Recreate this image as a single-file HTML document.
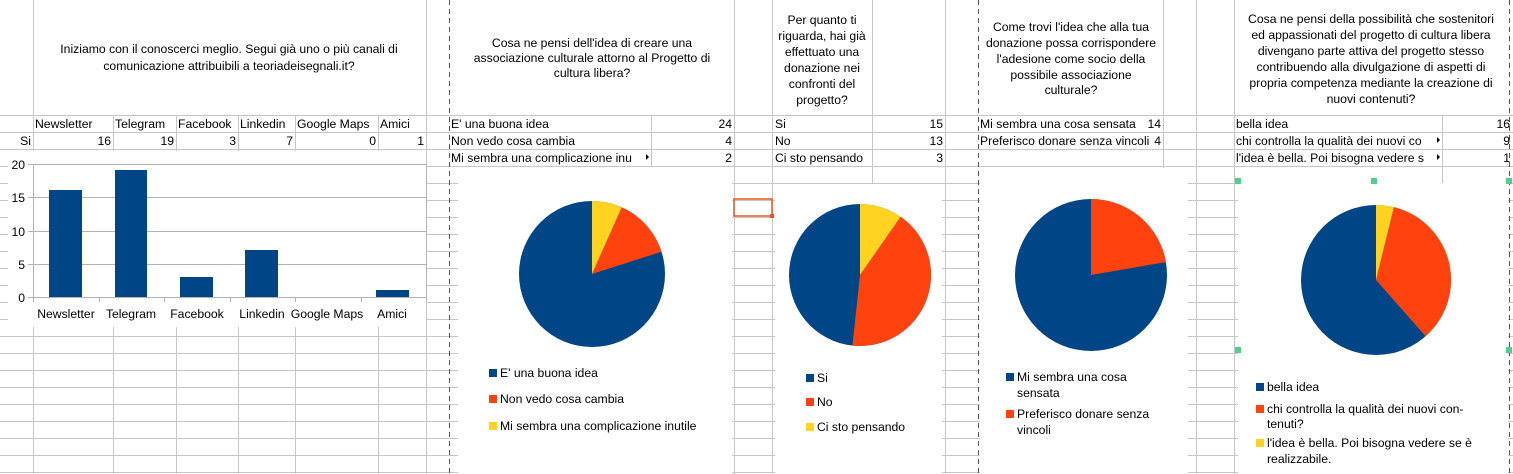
<!DOCTYPE html>
<html><head><meta charset="utf-8"><style>
html,body{margin:0;padding:0;background:#fff;}
svg{display:block;font-family:"Liberation Sans",sans-serif;font-size:12.2px;}
</style></head><body>
<svg width="1513" height="474" viewBox="0 0 1513 474" xmlns="http://www.w3.org/2000/svg">
<g stroke="#c6c6c6" stroke-width="1" shape-rendering="crispEdges">
<line x1="0" y1="115.5" x2="1513" y2="115.5"/><line x1="0" y1="132.5" x2="1513" y2="132.5"/>
<line x1="0" y1="149.5" x2="1513" y2="149.5"/><line x1="0" y1="166.5" x2="1513" y2="166.5"/>
<line x1="0" y1="183.5" x2="1513" y2="183.5"/><line x1="0" y1="200.5" x2="1513" y2="200.5"/>
<line x1="0" y1="217.5" x2="1513" y2="217.5"/><line x1="0" y1="234.5" x2="1513" y2="234.5"/>
<line x1="0" y1="251.5" x2="1513" y2="251.5"/><line x1="0" y1="268.5" x2="1513" y2="268.5"/>
<line x1="0" y1="285.5" x2="1513" y2="285.5"/><line x1="0" y1="302.5" x2="1513" y2="302.5"/>
<line x1="0" y1="319.5" x2="1513" y2="319.5"/><line x1="0" y1="336.5" x2="1513" y2="336.5"/>
<line x1="0" y1="353.5" x2="1513" y2="353.5"/><line x1="0" y1="370.5" x2="1513" y2="370.5"/>
<line x1="0" y1="387.5" x2="1513" y2="387.5"/><line x1="0" y1="404.5" x2="1513" y2="404.5"/>
<line x1="0" y1="421.5" x2="1513" y2="421.5"/><line x1="0" y1="438.5" x2="1513" y2="438.5"/>
<line x1="0" y1="455.5" x2="1513" y2="455.5"/><line x1="0" y1="472.5" x2="1513" y2="472.5"/>
<line x1="33.5" y1="0" x2="33.5" y2="474"/><line x1="426.5" y1="0" x2="426.5" y2="474"/>
<line x1="734.5" y1="0" x2="734.5" y2="474"/><line x1="772.5" y1="0" x2="772.5" y2="474"/>
<line x1="872.5" y1="0" x2="872.5" y2="474"/><line x1="945.5" y1="0" x2="945.5" y2="474"/>
<line x1="1163.5" y1="0" x2="1163.5" y2="474"/><line x1="1196.5" y1="0" x2="1196.5" y2="474"/>
<line x1="1234.5" y1="0" x2="1234.5" y2="474"/>
<line x1="113.5" y1="115" x2="113.5" y2="474"/><line x1="176.5" y1="115" x2="176.5" y2="474"/>
<line x1="238.5" y1="115" x2="238.5" y2="474"/><line x1="295.5" y1="115" x2="295.5" y2="474"/>
<line x1="378.5" y1="115" x2="378.5" y2="474"/><line x1="651.5" y1="115" x2="651.5" y2="474"/>
<line x1="1442.5" y1="115" x2="1442.5" y2="474"/>
</g>
<rect x="8" y="151" width="418" height="176" fill="#fff"/>
<rect x="458" y="167" width="274" height="307" fill="#fff"/>
<rect x="775" y="184" width="167" height="290" fill="#fff"/>
<rect x="980" y="168" width="208" height="306" fill="#fff"/>
<rect x="1238" y="183" width="270" height="291" fill="#fff"/>
<g stroke="#555" stroke-width="1" stroke-dasharray="5,4" shape-rendering="crispEdges">
<line x1="449.5" y1="0" x2="449.5" y2="474"/><line x1="978.5" y1="0" x2="978.5" y2="474"/>
<line x1="1509.5" y1="0" x2="1509.5" y2="474"/>
</g>
<g fill="#000" text-anchor="middle">
<text x="229" y="53">Iniziamo con il conoscerci meglio. Segui già uno o più canali di</text>
<text x="229" y="70">comunicazione attribuibili a teoriadeisegnali.it?</text>
<text x="592" y="47">Cosa ne pensi dell'idea di creare una</text>
<text x="592" y="62">associazione culturale attorno al Progetto di</text>
<text x="592" y="77">cultura libera?</text>
<text x="822" y="24">Per quanto ti</text><text x="822" y="40">riguarda, hai già</text>
<text x="822" y="56">effettuato una</text><text x="822" y="72">donazione nei</text>
<text x="822" y="88">confronti del</text><text x="822" y="104">progetto?</text>
<text x="1071" y="31">Come trovi l'idea che alla tua</text><text x="1071" y="47">donazione possa corrispondere</text>
<text x="1071" y="63">l'adesione come socio della</text><text x="1071" y="79">possibile associazione</text>
<text x="1071" y="94">culturale?</text>
<text x="1371" y="23">Cosa ne pensi della possibilità che sostenitori</text>
<text x="1371" y="39">ed appassionati del progetto di cultura libera</text>
<text x="1371" y="55">divengano parte attiva del progetto stesso</text>
<text x="1371" y="71">contribuendo alla divulgazione di aspetti di</text>
<text x="1371" y="87">propria competenza mediante la creazione di</text>
<text x="1371" y="103">nuovi contenuti?</text>
</g>
<g fill="#000">
<text x="35" y="128">Newsletter</text><text x="115" y="128">Telegram</text><text x="178" y="128">Facebook</text>
<text x="240" y="128">Linkedin</text><text x="297" y="128">Google Maps</text><text x="380" y="128">Amici</text>
<g text-anchor="end">
<text x="31" y="145">Si</text><text x="111" y="145">16</text><text x="174" y="145">19</text><text x="236" y="145">3</text>
<text x="293" y="145">7</text><text x="376" y="145">0</text><text x="424" y="145">1</text>
<text x="732" y="128">24</text><text x="732" y="145">4</text><text x="732" y="162">2</text>
<text x="943" y="128">15</text><text x="943" y="145">13</text><text x="943" y="162">3</text>
<text x="1161" y="128">14</text><text x="1161" y="145">4</text>
<text x="1510" y="128">16</text><text x="1510" y="145">9</text><text x="1510" y="162">1</text>
</g>
<text x="451" y="128">E' una buona idea</text><text x="451" y="145">Non vedo cosa cambia</text>
<text x="451" y="162">Mi sembra una complicazione inu</text>
<text x="775" y="128">Si</text><text x="775" y="145">No</text><text x="775" y="162">Ci sto pensando</text>
<text x="980" y="128">Mi sembra una cosa sensata</text><text x="980" y="145">Preferisco donare senza vincoli</text>
<text x="1236" y="128">bella idea</text><text x="1236" y="145">chi controlla la qualità dei nuovi co</text>
<text x="1236" y="162">l'idea è bella. Poi bisogna vedere s</text>
<path d="M646 154 l3 3 l-3 3z"/><path d="M1437 137 l3 3 l-3 3z"/><path d="M1437 154 l3 3 l-3 3z"/>
</g>
<rect x="734" y="199" width="38" height="17" fill="none" stroke="#e8571e" stroke-width="1.5"/>
<rect x="770" y="214" width="4" height="4" fill="#e8571e"/>
<g stroke="#b3b3b3" stroke-width="1" shape-rendering="crispEdges">
<line x1="33" y1="164.5" x2="426" y2="164.5"/><line x1="33" y1="197.5" x2="426" y2="197.5"/>
<line x1="33" y1="231.5" x2="426" y2="231.5"/><line x1="33" y1="264.5" x2="426" y2="264.5"/>
<line x1="33" y1="297.5" x2="426" y2="297.5"/>
<line x1="33.5" y1="164" x2="33.5" y2="302"/><line x1="426.5" y1="164" x2="426.5" y2="302"/>
<line x1="28" y1="164.5" x2="33" y2="164.5"/><line x1="28" y1="197.5" x2="33" y2="197.5"/>
<line x1="28" y1="231.5" x2="33" y2="231.5"/><line x1="28" y1="264.5" x2="33" y2="264.5"/>
<line x1="28" y1="297.5" x2="33" y2="297.5"/>
<line x1="99.5" y1="297" x2="99.5" y2="302"/><line x1="164.5" y1="297" x2="164.5" y2="302"/>
<line x1="230.5" y1="297" x2="230.5" y2="302"/><line x1="295.5" y1="297" x2="295.5" y2="302"/>
<line x1="361.5" y1="297" x2="361.5" y2="302"/>
</g>
<g fill="#004586">
<rect x="49" y="190" width="33" height="107"/><rect x="115" y="170" width="32" height="127"/>
<rect x="180" y="277" width="33" height="20"/><rect x="245" y="250" width="33" height="47"/>
<rect x="376" y="290" width="33" height="7"/>
</g>
<g fill="#000" text-anchor="end">
<text x="25" y="169">20</text><text x="25" y="202">15</text><text x="25" y="236">10</text>
<text x="25" y="269">5</text><text x="25" y="302">0</text>
</g>
<g fill="#000" text-anchor="middle">
<text x="66" y="318">Newsletter</text><text x="131" y="318">Telegram</text><text x="197" y="318">Facebook</text>
<text x="262" y="318">Linkedin</text><text x="327" y="318">Google Maps</text><text x="392" y="318">Amici</text>
</g>
<g transform="translate(592,274) rotate(-90)">
<circle r="73" fill="#004586"/>
<circle r="36.5" fill="none" stroke="#ff420e" stroke-width="73" stroke-dasharray="30.6 300" stroke-dashoffset="-15.3"/>
<circle r="36.5" fill="none" stroke="#ffd320" stroke-width="73" stroke-dasharray="15.3 300"/>
</g>
<g transform="translate(860,275) rotate(-90)">
<circle r="71" fill="#004586"/>
<circle r="35.5" fill="none" stroke="#ff420e" stroke-width="71" stroke-dasharray="93.6 300" stroke-dashoffset="-21.6"/>
<circle r="35.5" fill="none" stroke="#ffd320" stroke-width="71" stroke-dasharray="21.6 300"/>
</g>
<g transform="translate(1091,275) rotate(-90)">
<circle r="76" fill="#004586"/>
<circle r="38" fill="none" stroke="#ff420e" stroke-width="76" stroke-dasharray="53.1 300"/>
</g>
<g transform="translate(1376,280) rotate(-90)">
<circle r="75" fill="#004586"/>
<circle r="37.5" fill="none" stroke="#ff420e" stroke-width="75" stroke-dasharray="81.5 300" stroke-dashoffset="-9.06"/>
<circle r="37.5" fill="none" stroke="#ffd320" stroke-width="75" stroke-dasharray="9.06 300"/>
</g>
<g fill="#000">
<rect x="489" y="369" width="8" height="8" fill="#004586"/><text x="500" y="377">E' una buona idea</text>
<rect x="489" y="395" width="8" height="8" fill="#ff420e"/><text x="500" y="403">Non vedo cosa cambia</text>
<rect x="489" y="422" width="8" height="8" fill="#ffd320"/><text x="500" y="430">Mi sembra una complicazione inutile</text>
<rect x="806" y="374" width="8" height="8" fill="#004586"/><text x="817" y="382">Si</text>
<rect x="806" y="398" width="8" height="8" fill="#ff420e"/><text x="817" y="406">No</text>
<rect x="806" y="423" width="8" height="8" fill="#ffd320"/><text x="817" y="431">Ci sto pensando</text>
<rect x="1006" y="373" width="8" height="8" fill="#004586"/><text x="1017" y="381">Mi sembra una cosa</text><text x="1017" y="397">sensata</text>
<rect x="1006" y="410" width="8" height="8" fill="#ff420e"/><text x="1017" y="418">Preferisco donare senza</text><text x="1017" y="434">vincoli</text>
<rect x="1256" y="383" width="8" height="8" fill="#004586"/><text x="1267" y="391">bella idea</text>
<rect x="1256" y="405" width="8" height="8" fill="#ff420e"/><text x="1267" y="413">chi controlla la qualità dei nuovi con-</text><text x="1267" y="428">tenuti?</text>
<rect x="1256" y="439" width="8" height="8" fill="#ffd320"/><text x="1267" y="447">l'idea è bella. Poi bisogna vedere se è</text><text x="1267" y="463">realizzabile.</text>
</g>
<g fill="#4fd18b">
<rect x="1235" y="178" width="6" height="6"/><rect x="1371" y="178" width="6" height="6"/><rect x="1506" y="178" width="6" height="6"/>
<rect x="1235" y="347" width="6" height="6"/><rect x="1506" y="347" width="6" height="6"/>
</g>
</svg>
</body></html>
